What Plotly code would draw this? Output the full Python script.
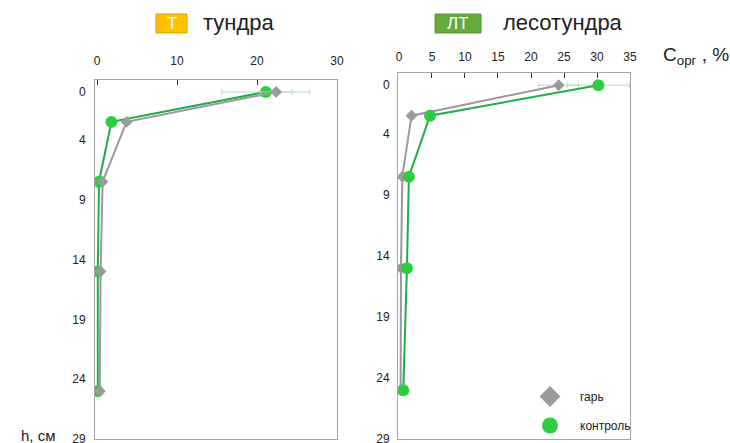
import plotly.graph_objects as go

# Depth of sampling layers, cm
depth = [0, 2.5, 7.5, 15, 25]

# Organic carbon content, % — tundra (Т)
t_burn = [22.4, 3.7, 0.7, 0.45, 0.35]
t_ctrl = [21.1, 1.8, 0.25, 0.1, 0.1]
t_burn_err = [2.0, None, None, None, None]
t_ctrl_err = [5.5, None, None, None, None]

# Organic carbon content, % — forest-tundra (ЛТ)
ft_burn = [24.2, 1.9, 0.5, 0.3, 0.25]
ft_ctrl = [30.2, 4.7, 1.5, 1.2, 0.65]
ft_burn_err = [3.0, None, None, None, None]
ft_ctrl_err = [4.7, None, None, None, None]

x_ticks_t = [0, 10, 20, 30]
x_ticks_ft = [0, 5, 10, 15, 20, 25, 30, 35]
y_ticks = [0, 4, 9, 14, 19, 24, 29]

series_names = ["гарь", "контроль"]

W, H = 730, 443
GRAY = "#9a9a9a"
GRAY_ERR = "#d0d0d0"
GREEN_LINE = "#1fae48"
GREEN_MARK = "#2ecc40"
GREEN_ERR = "#a9e3ad"
TXT = "#222222"


def px(x):
    return x / W


def py(y):
    return 1 - y / H


fig = go.Figure()


def burn_trace(xa, ya, vals, err):
    return go.Scatter(
        x=vals, y=depth, xaxis=xa, yaxis=ya, mode="lines+markers",
        line=dict(color=GRAY, width=2),
        marker=dict(symbol="diamond", size=9, color=GRAY),
        error_x=dict(type="data", array=err, color=GRAY_ERR,
                     thickness=1, width=3),
        showlegend=False,
    )


def ctrl_trace(xa, ya, vals, err):
    return go.Scatter(
        x=vals, y=depth, xaxis=xa, yaxis=ya, mode="lines+markers",
        line=dict(color=GREEN_LINE, width=2),
        marker=dict(symbol="circle", size=12, color=GREEN_MARK),
        error_x=dict(type="data", array=err, color=GREEN_ERR,
                     thickness=1, width=3),
        showlegend=False,
    )


# Tundra: burnt-site series drawn over the control
fig.add_trace(ctrl_trace("x", "y", t_ctrl, t_ctrl_err))
fig.add_trace(burn_trace("x", "y", t_burn, t_burn_err))
# Forest-tundra: control drawn over the burnt site
fig.add_trace(burn_trace("x2", "y2", ft_burn, ft_burn_err))
fig.add_trace(ctrl_trace("x2", "y2", ft_ctrl, ft_ctrl_err))

# Legend entries
fig.add_trace(go.Scatter(
    x=[None], y=[None], xaxis="x2", yaxis="y2", mode="markers",
    marker=dict(symbol="diamond", size=16, color=GRAY),
    name=series_names[0], legendgroup="a"))
fig.add_trace(go.Scatter(
    x=[None], y=[None], xaxis="x2", yaxis="y2", mode="markers",
    marker=dict(symbol="circle", size=16, color=GREEN_MARK),
    name=series_names[1], legendgroup="b"))

axis_common = dict(
    showline=True, linecolor="#a6a6a6", linewidth=1, mirror=True,
    showgrid=False, zeroline=False, automargin=False,
    tickfont=dict(family="Liberation Sans, Arial", size=12, color=TXT),
)

fig.update_layout(
    width=W, height=H,
    margin=dict(l=0, r=0, t=0, b=0, autoexpand=False),
    paper_bgcolor="white", plot_bgcolor="white",
    font=dict(family="Liberation Sans, Arial", color=TXT),
    xaxis=dict(domain=[px(95), px(337)], range=[-0.25, 30], side="top",
               tickvals=x_ticks_t, ticks="inside", ticklen=5,
               tickcolor="#333333", ticklabelstandoff=9, anchor="y",
               **axis_common),
    yaxis=dict(domain=[py(439), py(80)], range=[29, -1],
               tickvals=y_ticks, ticks="", ticklabelstandoff=6,
               ticklabeloverflow="allow", anchor="x", **axis_common),
    xaxis2=dict(domain=[px(398), px(630)], range=[-0.15, 35], side="top",
                tickvals=x_ticks_ft, ticks="inside", ticklen=5,
                tickcolor="#333333", ticklabelstandoff=6, anchor="y2",
                **axis_common),
    yaxis2=dict(domain=[py(439), py(73)], range=[29, -1],
                tickvals=y_ticks, ticks="", ticklabelstandoff=5,
                ticklabeloverflow="allow", anchor="x2", **axis_common),
    legend=dict(x=px(520), y=py(440), xanchor="left", yanchor="bottom",
                bgcolor="rgba(0,0,0,0)", tracegroupgap=10, itemwidth=50,
                font=dict(size=12, color=TXT)),
)

# Zone badges and titles
fig.add_shape(type="rect", xref="paper", yref="paper",
              x0=px(156), x1=px(187), y0=py(33), y1=py(14),
              fillcolor="#FFC000", line=dict(color="#D9A300", width=1))
fig.add_shape(type="rect", xref="paper", yref="paper",
              x0=px(435), x1=px(481), y0=py(33), y1=py(14),
              fillcolor="#66AA3E", line=dict(color="#5A9636", width=1))

annotations = [
    dict(x=px(171.5), y=py(23.5), text="Т", xanchor="center",
         yanchor="middle", font=dict(size=17, color="white")),
    dict(x=px(458), y=py(23.5), text="ЛТ", xanchor="center",
         yanchor="middle", font=dict(size=17, color="white")),
    dict(x=px(201), y=py(22), text="тундра", xanchor="left",
         yanchor="middle", font=dict(size=22, color=TXT)),
    dict(x=px(501), y=py(22), text="лесотундра", xanchor="left",
         yanchor="middle", font=dict(size=22, color=TXT)),
    dict(x=px(661), y=py(56), text="C<sub>орг</sub> , %", xanchor="left",
         yanchor="middle", font=dict(size=19, color=TXT)),
    dict(x=px(19), y=py(435), text="h, см", xanchor="left",
         yanchor="middle", font=dict(size=15, color=TXT)),
]
for a in annotations:
    fig.add_annotation(xref="paper", yref="paper", showarrow=False, **a)

fig.write_html("out.html")
